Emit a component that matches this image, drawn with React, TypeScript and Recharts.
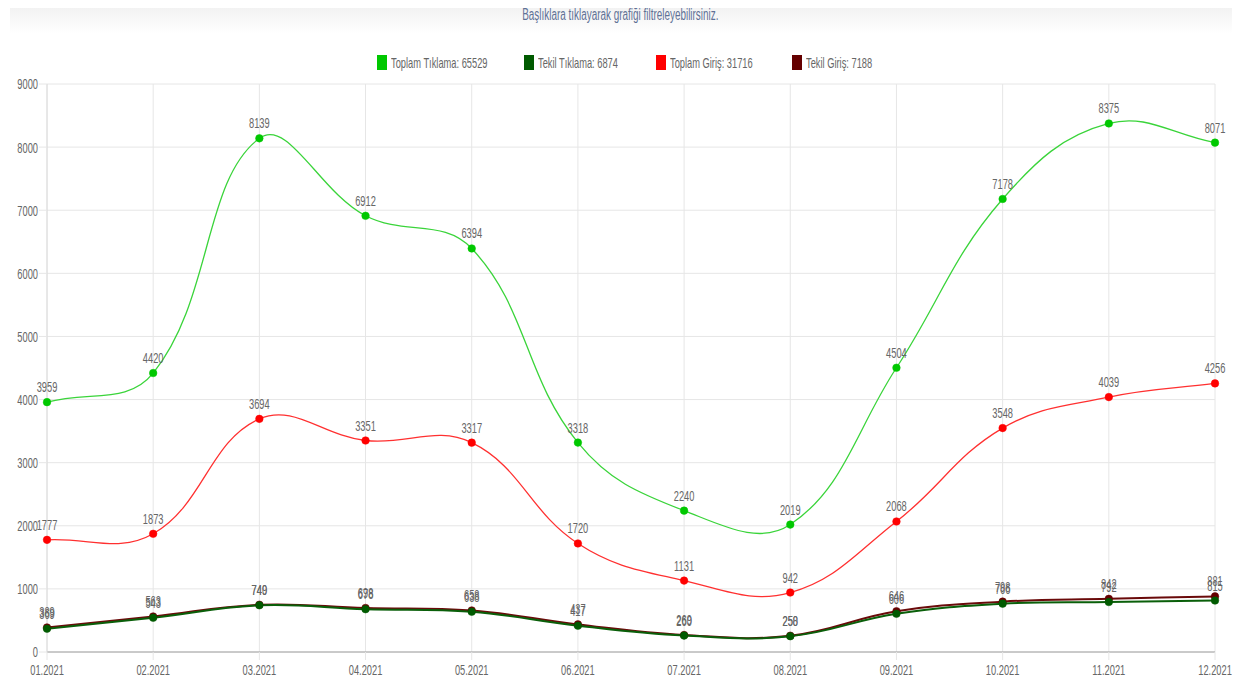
import React from 'react';
import { CartesianGrid, LabelList, Line, LineChart, XAxis, YAxis } from 'recharts';

const months = ['01.2021', '02.2021', '03.2021', '04.2021', '05.2021', '06.2021', '07.2021', '08.2021', '09.2021', '10.2021', '11.2021', '12.2021'];
const toplamTiklama = [3959, 4420, 8139, 6912, 6394, 3318, 2240, 2019, 4504, 7178, 8375, 8071];
const tekilTiklama = [369, 543, 740, 678, 638, 417, 260, 250, 606, 766, 792, 815];
const toplamGiris = [1777, 1873, 3694, 3351, 3317, 1720, 1131, 942, 2068, 3548, 4039, 4256];
const tekilGiris = [389, 563, 749, 698, 658, 437, 269, 258, 646, 798, 842, 881];
const yTicks = [0, 1000, 2000, 3000, 4000, 5000, 6000, 7000, 8000, 9000];

const sum = (a: number[]) => a.reduce((s, v) => s + v, 0);

const series = [
  { key: 'toplamTiklama', name: 'Toplam Tıklama', values: toplamTiklama, color: '#00c800', line: '#3ad43a' },
  { key: 'tekilTiklama', name: 'Tekil Tıklama', values: tekilTiklama, color: '#005a00', line: '#0a5f0a' },
  { key: 'toplamGiris', name: 'Toplam Giriş', values: toplamGiris, color: '#ff0000', line: '#ff3030' },
  { key: 'tekilGiris', name: 'Tekil Giriş', values: tekilGiris, color: '#650000', line: '#6a0a0a' },
];
const legendLeft = [377, 524, 656, 792];

const data = months.map((m, i) => ({
  month: m,
  toplamTiklama: toplamTiklama[i],
  tekilTiklama: tekilTiklama[i],
  toplamGiris: toplamGiris[i],
  tekilGiris: tekilGiris[i],
}));

const FONT = "'Liberation Sans', Arial, sans-serif";
const SQUEEZE = 0.62;

// chart.js style spline (tension 0.4)
function chartJsCurve(context: any) {
  let pts: [number, number][] = [];
  return {
    areaStart() {},
    areaEnd() {},
    lineStart() {
      pts = [];
    },
    point(x: number, y: number) {
      pts.push([+x, +y]);
    },
    lineEnd() {
      const n = pts.length;
      if (!n) return;
      const t = 0.4;
      const cps = pts.map((p, i) => {
        const prev = pts[i - 1] || p;
        const next = pts[i + 1] || p;
        const d01 = Math.hypot(p[0] - prev[0], p[1] - prev[1]);
        const d12 = Math.hypot(next[0] - p[0], next[1] - p[1]);
        let s01 = d01 / (d01 + d12);
        let s12 = d12 / (d01 + d12);
        if (isNaN(s01)) s01 = 0;
        if (isNaN(s12)) s12 = 0;
        return {
          px: p[0] - t * s01 * (next[0] - prev[0]),
          py: p[1] - t * s01 * (next[1] - prev[1]),
          nx: p[0] + t * s12 * (next[0] - prev[0]),
          ny: p[1] + t * s12 * (next[1] - prev[1]),
        };
      });
      context.moveTo(pts[0][0], pts[0][1]);
      for (let i = 1; i < n; i++) {
        context.bezierCurveTo(cps[i - 1].nx, cps[i - 1].ny, cps[i].px, cps[i].py, pts[i][0], pts[i][1]);
      }
    },
  };
}

// narrow text: the original font is condensed
const NarrowText = ({ x, y, anchor, dy, children }: any) => (
  <g transform={`translate(${x},${y})`}>
    <text transform={`scale(${SQUEEZE},1)`} textAnchor={anchor} dy={dy} fill="#666" fontSize={15} fontFamily={FONT}>
      {children}
    </text>
  </g>
);

const XTick = ({ x, y, payload }: any) => (
  <NarrowText x={x} y={y} anchor="middle" dy="0.71em">
    {payload.value}
  </NarrowText>
);

const YTick = ({ x, y, payload }: any) => (
  <NarrowText x={x} y={y} anchor="end" dy="0.36em">
    {payload.value}
  </NarrowText>
);

const PointLabel = ({ x, y, value }: any) => (
  <NarrowText x={x} y={y - 10} anchor="middle" dy={0}>
    {value}
  </NarrowText>
);

const drawOrder = [...series].reverse();

export default function App() {
  return (
    <div style={{ position: 'absolute', left: 0, top: 0, width: 1241, height: 681, background: '#fff', fontFamily: FONT }}>
      <div
        style={{
          position: 'absolute',
          left: 10,
          top: 8,
          width: 1222,
          height: 26,
          background: 'linear-gradient(#f2f2f2, #ffffff)',
        }}
      />
      <div
        style={{
          position: 'absolute',
          left: 0,
          top: 6,
          width: 1241,
          textAlign: 'center',
          fontSize: 16,
          color: '#5f7196',
          transform: `scaleX(${SQUEEZE})`,
          transformOrigin: '620px 0',
        }}
      >
        Başlıklara tıklayarak grafiği filtreleyebilirsiniz.
      </div>
      {series.map((s, i) => (
        <div key={s.key} style={{ position: 'absolute', left: legendLeft[i], top: 54, height: 16, display: 'flex', alignItems: 'center' }}>
          <span style={{ display: 'inline-block', width: 10, height: 15, background: s.color, marginRight: 4 }} />
          <span
            style={{
              display: 'inline-block',
              fontSize: 15,
              color: '#666',
              whiteSpace: 'nowrap',
              transform: `scaleX(${SQUEEZE})`,
              transformOrigin: '0 50%',
            }}
          >
            {s.name}: {sum(s.values)}
          </span>
        </div>
      ))}
      <div style={{ position: 'absolute', left: 0, top: 0 }}>
        <LineChart width={1241} height={681} data={data} margin={{ top: 84, right: 26, bottom: 0, left: 0 }}>
          <CartesianGrid stroke="#e6e6e6" />
          <XAxis
            dataKey="month"
            height={29}
            tickSize={8}
            tickMargin={4}
            tick={<XTick />}
            axisLine={{ stroke: '#a0a0a0' }}
            tickLine={{ stroke: '#e6e6e6' }}
            interval={0}
          />
          <YAxis
            width={47}
            domain={[0, 9000]}
            ticks={yTicks}
            tickSize={8}
            tickMargin={1}
            tick={<YTick />}
            axisLine={{ stroke: '#dcdcdc' }}
            tickLine={{ stroke: '#e6e6e6' }}
          />
          {drawOrder.map((s) => (
            <Line
              key={s.key}
              dataKey={s.key}
              name={s.name}
              type={chartJsCurve as any}
              stroke={s.line}
              strokeWidth={s.key.startsWith('tekil') ? 2 : 1.3}
              dot={{ r: 3.8, fill: s.color, stroke: s.color, strokeWidth: 0.5 }}
              activeDot={false}
              isAnimationActive={false}
            >
              <LabelList dataKey={s.key} content={<PointLabel />} />
            </Line>
          ))}
        </LineChart>
      </div>
    </div>
  );
}
